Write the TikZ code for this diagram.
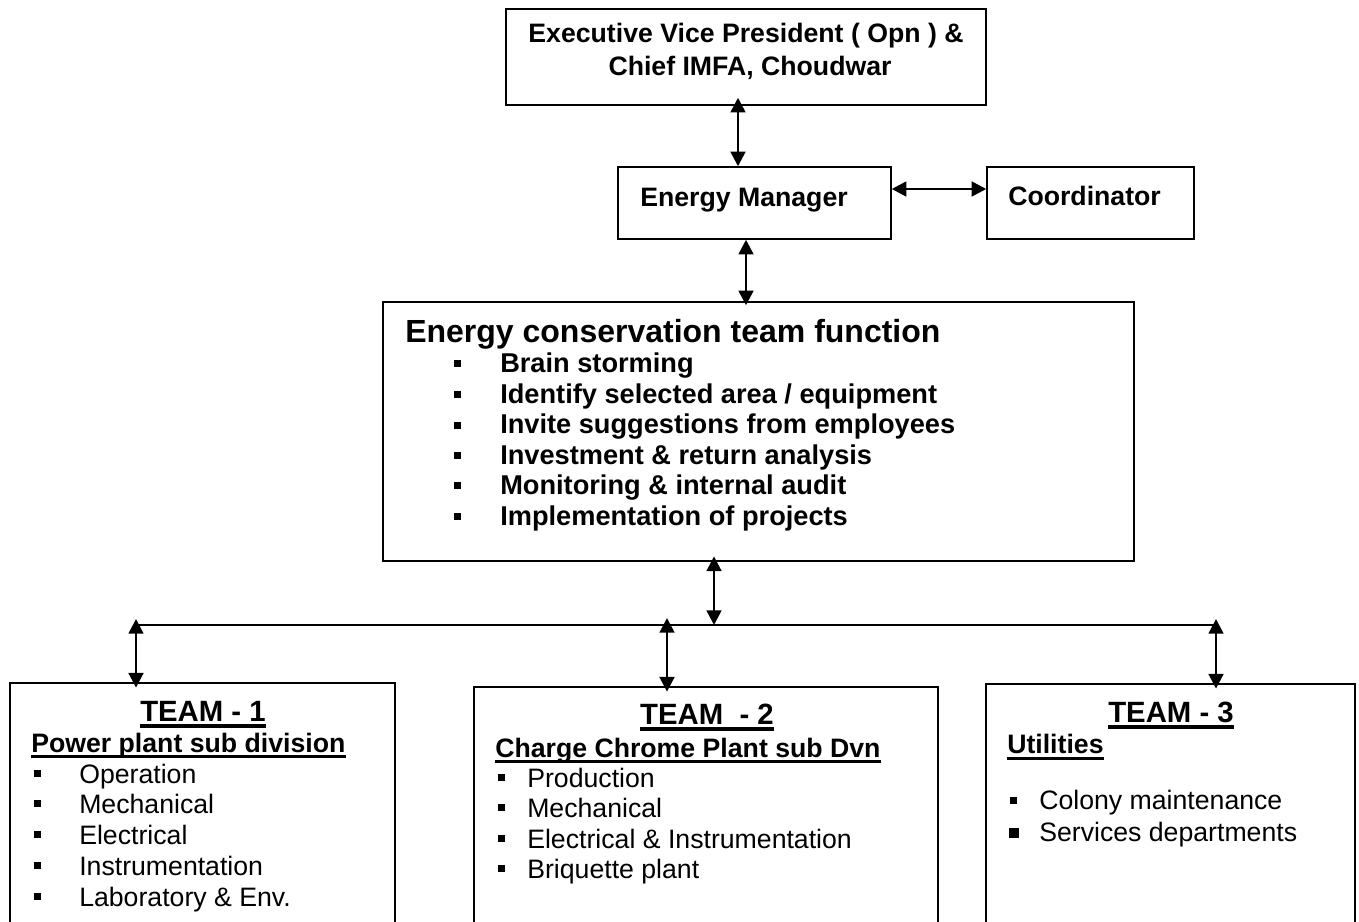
\documentclass[tikz,border=0pt]{standalone}
\usepackage{fontspec}
\setmainfont{Liberation Sans}
\usetikzlibrary{arrows.meta,fit}
\newcommand\fsBox{\fontsize{20}{24}\selectfont\bfseries}
\newcommand\fsTitle{\fontsize{24}{28}\selectfont\bfseries}
\newcommand\fsItemB{\fontsize{20.4}{24}\selectfont\bfseries}
\newcommand\fsTeam{\fontsize{22}{26}\selectfont\bfseries}
\newcommand\fsSub{\fontsize{20}{24}\selectfont\bfseries}
\newcommand\fsItem{\fontsize{20}{24}\selectfont}
\begin{document}
\begin{tikzpicture}[x=0.75pt,y=-0.75pt,
  box/.style={draw,line width=1.1pt,inner sep=0pt},
  txt/.style={inner sep=0pt,anchor=base west},
  ctxt/.style={inner sep=0pt,anchor=base},
  dbl/.style={{Triangle[width=11pt,length=11pt]}-{Triangle[width=11pt,length=11pt]},line width=2pt},
  bul/.style={fill,inner sep=0pt,minimum size=5.25pt},
  bigbul/.style={fill,inner sep=0pt,minimum size=8pt},
  tline/.style={line width=2.5pt},
  sline/.style={line width=2.25pt}]
\useasboundingbox (0,0) rectangle (1359,921);
\clip (0,0) rectangle (1359,921);
% boxes
\node[box,fit={(506,9)(986,105)}] (exec) {};
\node[box,fit={(618,167)(891,239)}] (em) {};
\node[box,fit={(987,167)(1194,239)}] (coord) {};
\node[box,fit={(383,302)(1134,561)}] (ect) {};
\node[box,fit={(10,683)(395,960)}] (t1) {};
\node[box,fit={(474,687)(938,960)}] (t2) {};
\node[box,fit={(986,684)(1355,960)}] (t3) {};
% connectors
\coordinate (xa) at (738,0);
\draw[dbl,shorten <=-6pt] (exec.south -| xa) -- (em.north -| xa);
\coordinate (ya) at (0,189);
\draw[dbl] (em.east |- ya) -- (coord.west |- ya);
\coordinate (xb) at (746,0);
\draw[dbl,shorten >=-3pt] (em.south -| xb) -- (ect.north -| xb);
\coordinate (busL) at (137,625);
\coordinate (busR) at (1217,625);
\coordinate (xc) at (714,0);
\draw[line width=1.1pt] (busL) -- (busR);
\draw[dbl,shorten <=-4pt] (ect.south -| xc) -- (xc |- busL);
\coordinate (u1) at (136,619);
\coordinate (u2) at (667,618);
\coordinate (u3) at (1216,619);
\draw[dbl,shorten >=-4pt] (u1) -- (t1.north -| u1);
\draw[dbl,shorten >=-4pt] (u2) -- (t2.north -| u2);
\draw[dbl,shorten >=-4pt] (u3) -- (t3.north -| u3);
% top texts
\node[ctxt,font=\fsBox] (exec1) at (746,42) {Executive Vice President ( Opn ) \&};
\node[ctxt,font=\fsBox] (exec2) at (750,75) {Chief IMFA, Choudwar};
\node[txt,font=\fsBox] (emt) at (640,206) {Energy Manager};
\node[txt,font=\fsBox] (coordt) at (1008,205) {Coordinator};
% ECT
\node[txt,font=\fsTitle] (ectt) at (405,342) {Energy conservation team function};
\node[txt,font=\fsItemB] (e1) at (500,372) {Brain storming};
\node[txt,font=\fsItemB] (e2) at (500,403) {Identify selected area / equipment};
\node[txt,font=\fsItemB] (e3) at (500,433.5) {Invite suggestions from employees};
\node[txt,font=\fsItemB] (e4) at (500,464) {Investment \& return analysis};
\node[txt,font=\fsItemB] (e5) at (500,494) {Monitoring \& internal audit};
\node[txt,font=\fsItemB] (e6) at (500,525) {Implementation of projects};
\foreach \y [count=\i] in {372,403,433.5,464,494,525}
  \node[bul] (eb\i) at (457,\y-8.5) {};
% Team 1
\node[ctxt,font=\fsTeam] (h1) at (203,721) {TEAM - 1};
\draw[tline] ([yshift=-3.75pt]h1.base west) -- ([yshift=-3.75pt]h1.base east);
\node[txt,font=\fsSub] (s1) at (31,752) {Power plant sub division};
\draw[sline] ([yshift=-3pt]s1.base west) -- ([yshift=-3pt]s1.base east);
\node[txt,font=\fsItem] (a1) at (79,783) {Operation};
\node[txt,font=\fsItem] (a2) at (79,813.5) {Mechanical};
\node[txt,font=\fsItem] (a3) at (79,844.5) {Electrical};
\node[txt,font=\fsItem] (a4) at (79,875) {Instrumentation};
\node[txt,font=\fsItem] (a5) at (79,906) {Laboratory \& Env.};
\foreach \y [count=\i] in {783,813.5,844.5,875,906}
  \node[bul] (ab\i) at (37,\y-10) {};
% Team 2
\node[ctxt,font=\fsTeam] (h2) at (707,724) {TEAM\ \ - 2};
\draw[tline] ([yshift=-3.75pt]h2.base west) -- ([yshift=-3.75pt]h2.base east);
\node[txt,font=\fsSub] (s2) at (495,757) {Charge Chrome Plant sub Dvn};
\draw[sline] ([yshift=-3pt]s2.base west) -- ([yshift=-3pt]s2.base east);
\node[txt,font=\fsItem] (b1) at (527,787) {Production};
\node[txt,font=\fsItem] (b2) at (527,817.5) {Mechanical};
\node[txt,font=\fsItem] (b3) at (527,848.5) {Electrical \& Instrumentation};
\node[txt,font=\fsItem] (b4) at (527,878.5) {Briquette plant};
\foreach \y [count=\i] in {787,817.5,848.5,878.5}
  \node[bul] (bb\i) at (501,\y-10) {};
% Team 3
\node[ctxt,font=\fsTeam] (h3) at (1171,722) {TEAM - 3};
\draw[tline] ([yshift=-3.75pt]h3.base west) -- ([yshift=-3.75pt]h3.base east);
\node[txt,font=\fsSub] (s3) at (1007,753) {Utilities};
\draw[sline] ([yshift=-3.75pt]s3.base west) -- ([yshift=-3.75pt]s3.base east);
\node[txt,font=\fsItem] (c1) at (1039,809.5) {Colony maintenance};
\node[txt,font=\fsItem] (c2) at (1039,841) {Services departments};
\node[bul] (cb1) at (1013,800.5) {};
\node[bigbul] (cb2) at (1014,833) {};
\end{tikzpicture}
\end{document}
